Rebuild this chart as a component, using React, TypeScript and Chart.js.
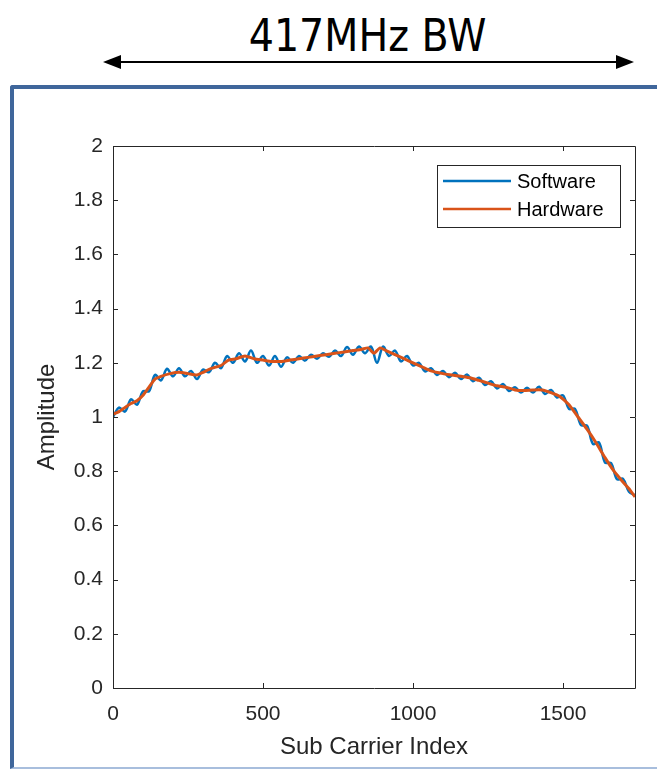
import React, { useEffect, useRef } from "react";
import { Chart, registerables } from "chart.js";

Chart.register(...registerables);

// ---- data ----
const hardwareX = [0, 20, 40, 60, 80, 100, 120, 140, 160, 190, 220, 250, 280, 300, 330, 360, 385, 410, 440, 470, 500, 530, 560, 590, 620, 650, 680, 710, 740, 770, 800, 830, 850, 870, 890, 910, 940, 970, 1000, 1030, 1060, 1100, 1130, 1160, 1190, 1220, 1250, 1280, 1310, 1340, 1370, 1400, 1430, 1460, 1490, 1520, 1550, 1580, 1610, 1640, 1670, 1700, 1720, 1740];
const hardwareY = [1.01, 1.02, 1.035, 1.05, 1.06, 1.08, 1.11, 1.14, 1.15, 1.16, 1.165, 1.16, 1.155, 1.165, 1.18, 1.19, 1.21, 1.215, 1.225, 1.215, 1.21, 1.205, 1.205, 1.21, 1.215, 1.22, 1.225, 1.23, 1.235, 1.24, 1.245, 1.25, 1.255, 1.235, 1.255, 1.245, 1.23, 1.215, 1.2, 1.185, 1.17, 1.16, 1.155, 1.15, 1.145, 1.135, 1.125, 1.115, 1.11, 1.1, 1.098, 1.1, 1.1, 1.09, 1.075, 1.045, 1.0, 0.955, 0.905, 0.85, 0.8, 0.76, 0.735, 0.705];

const softwareX = [0, 20, 40, 60, 80, 100, 120, 140, 160, 180, 200, 220, 240, 260, 280, 300, 320, 340, 360, 380, 400, 420, 440, 460, 480, 500, 520, 540, 560, 580, 600, 620, 640, 660, 680, 700, 720, 740, 760, 780, 800, 820, 840, 860, 880, 900, 920, 940, 960, 980, 1000, 1020, 1040, 1060, 1080, 1100, 1120, 1140, 1160, 1180, 1200, 1220, 1240, 1260, 1280, 1300, 1320, 1340, 1360, 1380, 1400, 1420, 1440, 1460, 1480, 1500, 1520, 1540, 1560, 1580, 1600, 1620, 1640, 1660, 1680, 1700, 1720, 1740];
const softwareY = [1.0, 1.035, 1.02, 1.065, 1.045, 1.095, 1.095, 1.155, 1.135, 1.178, 1.15, 1.18, 1.15, 1.17, 1.14, 1.175, 1.165, 1.2, 1.18, 1.225, 1.2, 1.235, 1.205, 1.245, 1.2, 1.225, 1.19, 1.225, 1.185, 1.22, 1.2, 1.225, 1.208, 1.23, 1.215, 1.235, 1.222, 1.245, 1.225, 1.258, 1.23, 1.26, 1.235, 1.26, 1.2, 1.26, 1.225, 1.245, 1.205, 1.225, 1.19, 1.2, 1.168, 1.18, 1.155, 1.17, 1.147, 1.163, 1.14, 1.157, 1.132, 1.145, 1.118, 1.132, 1.105, 1.122, 1.096, 1.11, 1.09, 1.108, 1.09, 1.112, 1.085, 1.1, 1.072, 1.08, 1.03, 1.03, 0.97, 0.968, 0.9, 0.906, 0.832, 0.83, 0.77, 0.772, 0.724, 0.712];

const xTicks = [0, 500, 1000, 1500];
const yTicks = [0, 0.2, 0.4, 0.6, 0.8, 1, 1.2, 1.4, 1.6, 1.8, 2];
const X_MIN = 0;
const X_MAX = 1740;
const Y_MIN = 0;
const Y_MAX = 2;

const seriesNames = ["Software", "Hardware"];
const seriesColors = ["#0072BD", "#D95319"];

const titleText = "417MHz BW";
const xTitle = "Sub Carrier Index";
const yTitle = "Amplitude";

const FONT = "'Liberation Sans', Arial, Helvetica, sans-serif";
const AXIS_COLOR = "#262626";

const boxPlugin = {
  id: "matlabBox",
  afterDraw(chart: any) {
    const { ctx, chartArea } = chart;
    const xs = chart.scales.x;
    const ys = chart.scales.y;
    const { left, right, top, bottom } = chartArea;
    ctx.save();
    ctx.strokeStyle = AXIS_COLOR;
    ctx.lineWidth = 1;
    ctx.beginPath();
    ctx.rect(Math.round(left) + 0.5, Math.round(top) + 0.5, Math.round(right - left), Math.round(bottom - top));
    ctx.stroke();
    const tl = 5;
    ctx.beginPath();
    xTicks.forEach((v) => {
      const px = Math.round(xs.getPixelForValue(v)) + 0.5;
      ctx.moveTo(px, bottom);
      ctx.lineTo(px, bottom - tl);
      ctx.moveTo(px, top);
      ctx.lineTo(px, top + tl);
    });
    yTicks.forEach((v) => {
      const py = Math.round(ys.getPixelForValue(v)) + 0.5;
      ctx.moveTo(left, py);
      ctx.lineTo(left + tl, py);
      ctx.moveTo(right, py);
      ctx.lineTo(right - tl, py);
    });
    ctx.stroke();

    // legend
    const lx = 437;
    const ly = 165;
    const lw = 183;
    const lh = 62;
    ctx.fillStyle = "#ffffff";
    ctx.fillRect(lx, ly, lw, lh);
    ctx.strokeStyle = AXIS_COLOR;
    ctx.lineWidth = 1;
    ctx.strokeRect(lx + 0.5, ly + 0.5, lw, lh);
    chart.data.datasets.forEach((ds: any, i: number) => {
      const yy = ly + 16 + i * 28;
      ctx.strokeStyle = ds.borderColor;
      ctx.lineWidth = 2.5;
      ctx.beginPath();
      ctx.moveTo(lx + 6, yy);
      ctx.lineTo(lx + 74, yy);
      ctx.stroke();
      ctx.fillStyle = "#000000";
      ctx.font = `20px ${FONT}`;
      ctx.textBaseline = "middle";
      ctx.textAlign = "left";
      ctx.fillText(ds.label, lx + 80, yy + 1);
    });
    ctx.restore();
  },
};

export default function App() {
  const canvasRef = useRef<HTMLCanvasElement | null>(null);

  useEffect(() => {
    const canvas = canvasRef.current;
    if (!canvas) return;
    const software = softwareX.map((x, i) => ({ x, y: softwareY[i] }));
    const hardware = hardwareX.map((x, i) => ({ x, y: hardwareY[i] }));
    const chart = new Chart(canvas, {
      type: "line",
      data: {
        datasets: [
          {
            label: seriesNames[0],
            data: software,
            borderColor: seriesColors[0],
            backgroundColor: seriesColors[0],
            borderWidth: 2.5,
            pointRadius: 0,
            tension: 0.35,
            order: 1,
          },
          {
            label: seriesNames[1],
            data: hardware,
            borderColor: seriesColors[1],
            backgroundColor: seriesColors[1],
            borderWidth: 3,
            pointRadius: 0,
            tension: 0.2,
            order: 0,
          },
        ],
      },
      options: {
        responsive: false,
        animation: false,
        devicePixelRatio: 1,
        layout: { padding: { left: 0, right: 22, top: 146, bottom: 0 } },
        plugins: {
          legend: { display: false },
          tooltip: { enabled: false },
          title: { display: false },
        },
        scales: {
          x: {
            type: "linear",
            min: X_MIN,
            max: X_MAX,
            grid: { display: false },
            border: { display: false },
            afterBuildTicks: (s: any) => {
              s.ticks = xTicks.map((v) => ({ value: v }));
            },
            afterFit: (s: any) => {
              s.height = 81;
            },
            ticks: {
              color: AXIS_COLOR,
              font: { family: FONT, size: 21 },
              padding: 6,
              maxRotation: 0,
              callback: (v: any) => String(v),
            },
            title: {
              display: true,
              text: xTitle,
              color: AXIS_COLOR,
              font: { family: FONT, size: 24 },
              padding: { top: 0, bottom: 7 },
            },
          },
          y: {
            type: "linear",
            min: Y_MIN,
            max: Y_MAX,
            grid: { display: false },
            border: { display: false },
            afterBuildTicks: (s: any) => {
              s.ticks = yTicks.map((v) => ({ value: v }));
            },
            afterFit: (s: any) => {
              s.width = 113;
            },
            ticks: {
              color: AXIS_COLOR,
              font: { family: FONT, size: 21 },
              padding: 2,
              callback: (v: any) => String(Number(Number(v).toFixed(1))),
            },
            title: {
              display: true,
              text: yTitle,
              color: AXIS_COLOR,
              font: { family: FONT, size: 24 },
              padding: { top: 33, bottom: 0 },
            },
          },
        },
      },
      plugins: [boxPlugin],
    });
    return () => chart.destroy();
  }, []);

  return (
    <div
      style={{
        position: "absolute",
        left: 0,
        top: 0,
        width: 657,
        height: 769,
        overflow: "hidden",
        background: "#ffffff",
      }}
    >
      <div
        style={{
          position: "absolute",
          left: 10,
          top: 85,
          width: 720,
          height: 678,
          borderLeft: "4px solid #3F669B",
          borderTop: "4px solid #3F669B",
          borderBottom: "2px solid #A8BEDD",
          borderTopLeftRadius: 3,
        }}
      />
      <div
        style={{
          position: "absolute",
          left: 0,
          width: 735,
          top: 8,
          textAlign: "center",
          fontFamily: "'DejaVu Sans Condensed', 'DejaVu Sans', sans-serif",
          fontSize: 44,
          lineHeight: "56px",
          color: "#000000",
          fontStretch: "condensed",
        }}
      >
        {titleText}
      </div>
      <svg
        width={657}
        height={769}
        style={{ position: "absolute", left: 0, top: 0 }}
      >
        <line x1={114} y1={62} x2={623} y2={62} stroke="#000" strokeWidth={2} />
        <polygon points="103,62 121,55 121,69" fill="#000" />
        <polygon points="634,62 616,55 616,69" fill="#000" />
      </svg>
      <canvas
        ref={canvasRef}
        width={657}
        height={769}
        style={{ position: "absolute", left: 0, top: 0, width: 657, height: 769 }}
      />
    </div>
  );
}
